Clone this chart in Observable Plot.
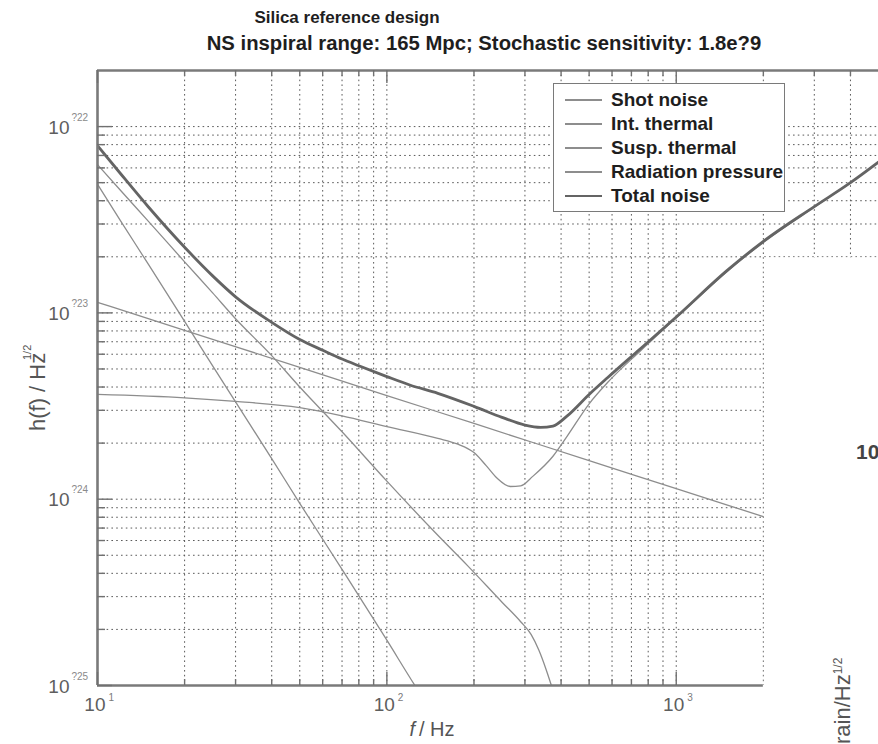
<!DOCTYPE html>
<html>
<head>
<meta charset="utf-8">
<script src="https://cdn.jsdelivr.net/npm/d3@7"></script>
<script src="https://cdn.jsdelivr.net/npm/@observablehq/plot@0.6"></script>
<style>
html,body{margin:0;padding:0;background:#fff;}
body{font-family:"Liberation Sans",Arial,Helvetica,sans-serif;}
#page{position:relative;width:878px;height:744px;overflow:hidden;background:#fff;}
#head{position:relative;height:60px;}
.ttl{position:absolute;transform:translate(-50%,-50%);font-weight:bold;color:#1e1e1e;white-space:nowrap;}
#chart svg{display:block;}
#legend{position:absolute;left:553px;top:83px;width:232px;height:129px;border:1.6px solid #7a7a7a;background:#fff;box-sizing:border-box;overflow:hidden;}
.lrow{position:absolute;left:0;width:100%;height:24px;}
.lsw{position:absolute;left:11px;width:37px;}
.ltx{position:absolute;left:57px;top:0;font-weight:bold;font-size:19px;line-height:24px;color:#1e1e1e;white-space:nowrap;}
.stray{position:absolute;white-space:nowrap;color:#444;}
</style>
</head>
<body>
<div id="page">
  <div id="head">
    <div class="ttl" id="title" style="left:347px;top:18px;font-size:17px"></div>
    <div class="ttl" id="subtitle" style="left:484px;top:43px;font-size:20.3px"></div>
  </div>
  <div id="chart"></div>
  <div id="legend"></div>
  <div class="stray" style="left:856px;top:440px;font-size:21px;font-weight:bold;">10</div>
  <div class="stray" style="left:830px;top:744px;font-size:22px;transform:rotate(-90deg);transform-origin:left top;color:#555;">rain/Hz<sup style="font-size:12px">1/2</sup></div>
</div>
<script>
// ---------- text ----------
const titleText = "Silica reference design";
const subtitleText = "NS inspiral range: 165 Mpc; Stochastic sensitivity: 1.8e?9";
const yLabel = "h(f) / Hz";
const yLabelExp = "1/2";
const xLabelItalic = "f";
const xLabelRest = "/ Hz";

// ---------- axes ----------
const xDomain = [10, 5000];
const yDomain = [1e-25, 2e-22];
const xTickMajor = [10, 100, 1000];
const xTickExp = ["1", "2", "3"];
const xTickMinor = [20, 30, 40, 50, 60, 70, 80, 90, 200, 300, 400, 500, 600, 700, 800, 900, 2000, 3000, 4000];
const yTickMajor = [1e-25, 1e-24, 1e-23, 1e-22];
const yTickExp = ["?25", "?24", "?23", "?22"];
const yTickMinor = [2e-25, 3e-25, 4e-25, 5e-25, 6e-25, 7e-25, 8e-25, 9e-25,
                    2e-24, 3e-24, 4e-24, 5e-24, 6e-24, 7e-24, 8e-24, 9e-24,
                    2e-23, 3e-23, 4e-23, 5e-23, 6e-23, 7e-23, 8e-23, 9e-23];
// region of the panel hidden by a pasted white patch in the reference
const maskRegion = [{x1: 2000, x2: 5000, y1: 1e-25, y2: 2e-23}];

// ---------- series ----------
const shotFreq  = [10, 20, 30, 50, 70, 100, 150, 175, 200, 220, 240, 267, 290, 320, 375, 420, 500, 580, 750, 1000, 1500, 2000, 3000, 4000, 5000];
const shotNoise = [3.65e-24, 3.5e-24, 3.35e-24, 3.1e-24, 2.8e-24, 2.45e-24, 2.12e-24, 1.98e-24, 1.78e-24, 1.52e-24, 1.3e-24, 1.17e-24, 1.18e-24, 1.33e-24, 1.7e-24, 2.18e-24, 3.25e-24, 4.24e-24, 6.23e-24, 9.4e-24, 1.67e-23, 2.39e-23, 3.7e-23, 5.0e-23, 6.45e-23];

const intFreq    = [10, 20, 50, 100, 200, 500, 1000, 2000, 5000];
const intThermal = [1.14e-23, 8.06e-24, 5.1e-24, 3.6e-24, 2.55e-24, 1.61e-24, 1.14e-24, 8.06e-25, 5.1e-25];

const susFreq     = [10, 12, 15, 20, 25, 30, 40, 50, 70, 100, 125, 150];
const suspThermal = [4.9e-23, 3.13e-23, 1.82e-23, 9.0e-24, 5.2e-24, 3.33e-24, 1.65e-24, 9.5e-25, 4.2e-25, 1.75e-25, 1.0e-25, 6.5e-26];

const radFreq      = [10, 12, 15, 20, 25, 30, 40, 50, 70, 100, 150, 190, 250, 290, 315, 335, 355, 375, 395];
const radPressure  = [6.25e-23, 4.55e-23, 3.1e-23, 1.88e-23, 1.28e-23, 9.3e-24, 5.9e-24, 4.0e-24, 2.3e-24, 1.25e-24, 6.4e-25, 4.4e-25, 2.8e-25, 2.2e-25, 1.88e-25, 1.55e-25, 1.22e-25, 9.4e-26, 7.2e-26];

const totalFreq  = [10, 12, 15, 20, 25, 30, 40, 50, 60, 70, 80, 100, 120, 150, 200, 250, 300, 340, 375, 420, 500, 580, 750, 1000, 1500, 2000, 3000, 4000, 5000];
const totalNoise = [7.9e-23, 5.6e-23, 3.7e-23, 2.25e-23, 1.58e-23, 1.22e-23, 8.9e-24, 7.2e-24, 6.3e-24, 5.65e-24, 5.2e-24, 4.55e-24, 4.1e-24, 3.7e-24, 3.15e-24, 2.75e-24, 2.5e-24, 2.43e-24, 2.47e-24, 2.8e-24, 3.65e-24, 4.5e-24, 6.4e-24, 9.5e-24, 1.69e-23, 2.42e-23, 3.72e-23, 5.0e-23, 6.45e-23];

const legendNames = ["Shot noise", "Int. thermal", "Susp. thermal", "Radiation pressure", "Total noise"];

// ---------- styles ----------
const compColor = "#8d8d8d", compWidth = 1.3;
const totalColor = "#646464", totalWidth = 2.8;
const frameColor = "#7a7a7a";
const gridColor = "#5a5a5a";
const tickColor = "#707070";

const components = [
  {name: legendNames[0], f: shotFreq, h: shotNoise},
  {name: legendNames[1], f: intFreq, h: intThermal},
  {name: legendNames[2], f: susFreq, h: suspThermal},
  {name: legendNames[3], f: radFreq, h: radPressure}
];
const compRows = components.flatMap(s => s.f.map((f, i) => ({series: s.name, f, h: s.h[i]})));
const totalRows = totalFreq.map((f, i) => ({f, h: totalNoise[i]}));

document.getElementById("title").textContent = titleText;
document.getElementById("subtitle").textContent = subtitleText;

const gridStyle = {stroke: gridColor, strokeWidth: 1, strokeDasharray: "1.6,3.2"};

const plot = Plot.plot({
  width: 878, height: 684,
  marginLeft: 97, marginRight: 0, marginTop: 10, marginBottom: 59,
  x: {type: "log", domain: xDomain, axis: null},
  y: {type: "log", domain: yDomain, axis: null},
  style: {fontFamily: "'Liberation Sans', Arial, sans-serif", background: "white", overflow: "visible"},
  marks: [
    // dotted grid
    Plot.ruleX(xTickMajor.slice(1).concat(xTickMinor), {x: d => d, ...gridStyle}),
    Plot.ruleY(yTickMajor.slice(1).concat(yTickMinor), {y: d => d, ...gridStyle}),
    // noise curves
    Plot.line(compRows, {x: "f", y: "h", z: "series", stroke: compColor, strokeWidth: compWidth, curve: "monotone-x", clip: true}),
    Plot.line(totalRows, {x: "f", y: "h", stroke: totalColor, strokeWidth: totalWidth, curve: "monotone-x", clip: true}),
    // white patch
    Plot.rect(maskRegion, {x1: "x1", x2: "x2", y1: "y1", y2: "y2", fill: "white", insetLeft: 1, insetTop: 1, insetBottom: -5}),
    // frame (top, left, bottom)
    Plot.ruleY([yDomain[1]], {y: d => d, stroke: frameColor, strokeWidth: 2.6}),
    Plot.ruleX([xDomain[0]], {x: d => d, stroke: frameColor, strokeWidth: 2.6}),
    Plot.ruleY([yDomain[0]], {y: d => d, x1: () => xDomain[0], x2: () => maskRegion[0].x1, stroke: frameColor, strokeWidth: 2.6}),
    // inward ticks
    Plot.ruleY(yTickMajor, {y: d => d, x1: () => xDomain[0], x2: () => xDomain[0], insetRight: -15, stroke: tickColor, strokeWidth: 1.4}),
    Plot.ruleY(yTickMinor, {y: d => d, x1: () => xDomain[0], x2: () => xDomain[0], insetRight: -8, stroke: tickColor, strokeWidth: 1.4}),
    Plot.ruleX(xTickMajor, {x: d => d, y1: () => yDomain[0], y2: () => yDomain[0], insetTop: -13, stroke: tickColor, strokeWidth: 1.4}),
    Plot.ruleX(xTickMinor.filter(d => d < maskRegion[0].x1), {x: d => d, y1: () => yDomain[0], y2: () => yDomain[0], insetTop: -6, stroke: tickColor, strokeWidth: 1.4}),
    Plot.ruleX(xTickMajor, {x: d => d, y1: () => yDomain[1], y2: () => yDomain[1], insetBottom: -13, stroke: tickColor, strokeWidth: 1.4}),
    Plot.ruleX(xTickMinor, {x: d => d, y1: () => yDomain[1], y2: () => yDomain[1], insetBottom: -6, stroke: tickColor, strokeWidth: 1.4}),
    // x tick labels
    Plot.text(xTickMajor, {x: d => d, frameAnchor: "bottom", text: () => "10", textAnchor: "end", dx: 8, dy: 25, fontSize: 19, fill: "#5e5e5e"}),
    Plot.text(xTickMajor, {x: d => d, frameAnchor: "bottom", text: (d, i) => xTickExp[i], textAnchor: "start", dx: 11, dy: 15, fontSize: 10, fill: "#7a7a7a"}),
    // y tick labels
    Plot.text(yTickMajor, {y: d => d, frameAnchor: "left", text: () => "10", textAnchor: "end", dx: -28, dy: 1, fontSize: 19, fill: "#5e5e5e"}),
    Plot.text(yTickMajor, {y: d => d, frameAnchor: "left", text: (d, i) => yTickExp[i], textAnchor: "start", dx: -26, dy: -9, fontSize: 10, fill: "#8a8a8a"}),
    // axis labels
    Plot.text([yLabel], {frameAnchor: "left", text: d => d, rotate: -90, dx: -60, dy: 53, fontSize: 22, fill: "#555"}),
    Plot.text([yLabelExp], {frameAnchor: "left", text: d => d, rotate: -90, dx: -70, dy: -18, fontSize: 11, fill: "#555"}),
    Plot.text([xLabelItalic], {frameAnchor: "bottom", text: d => d, textAnchor: "end", dx: -73, dy: 50, fontSize: 20, fontStyle: "italic", fill: "#555"}),
    Plot.text([xLabelRest], {frameAnchor: "bottom", text: d => d, textAnchor: "start", dx: -69, dy: 50, fontSize: 20, fill: "#555"})
  ]
});
document.getElementById("chart").appendChild(plot);

// legend (HTML, drawn over the panel's upper right)
const legend = document.getElementById("legend");
legendNames.forEach((name, i) => {
  const row = document.createElement("div");
  row.className = "lrow";
  row.style.top = (4 + i * 24) + "px";
  const sw = document.createElement("div");
  sw.className = "lsw";
  const isTotal = i === legendNames.length - 1;
  const w = isTotal ? totalWidth : compWidth;
  sw.style.top = (12 - w / 2) + "px";
  sw.style.height = w + "px";
  sw.style.background = isTotal ? totalColor : compColor;
  const tx = document.createElement("div");
  tx.className = "ltx";
  tx.textContent = name;
  row.appendChild(sw);
  row.appendChild(tx);
  legend.appendChild(row);
});
</script>
</body>
</html>
